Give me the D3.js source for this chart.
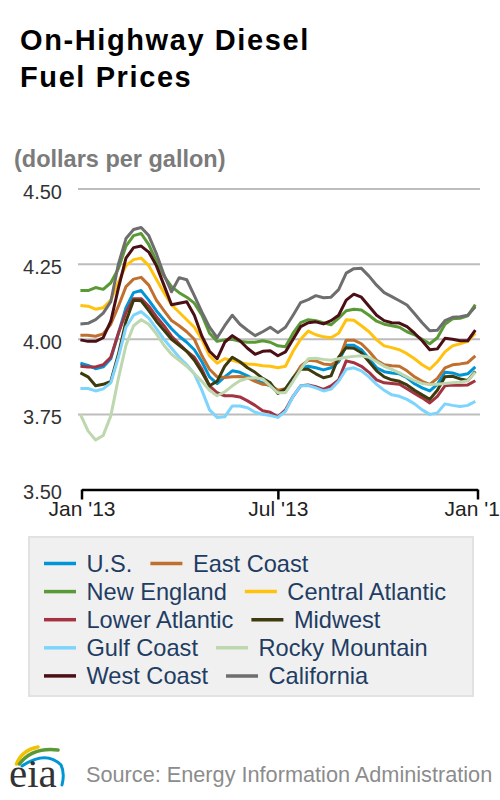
<!DOCTYPE html>
<html>
<head>
<meta charset="utf-8">
<script src="https://cdnjs.cloudflare.com/ajax/libs/d3/7.8.5/d3.min.js"></script>
<style>
  html, body { margin: 0; padding: 0; background: #fff; }
  svg { display: block; font-family: "Liberation Sans", Arial, Helvetica, sans-serif; }
</style>
</head>
<body>
<svg id="chart" width="500" height="800"></svg>
<script>
// ---------- DATA ----------
const dates = ["2012-12-31","2013-01-07","2013-01-14","2013-01-21","2013-01-28",
  "2013-02-04","2013-02-11","2013-02-18","2013-02-25","2013-03-04","2013-03-11","2013-03-18","2013-03-25",
  "2013-04-01","2013-04-08","2013-04-15","2013-04-22","2013-04-29","2013-05-06","2013-05-13","2013-05-20","2013-05-27",
  "2013-06-03","2013-06-10","2013-06-17","2013-06-24","2013-07-01","2013-07-08","2013-07-15","2013-07-22","2013-07-29",
  "2013-08-05","2013-08-12","2013-08-19","2013-08-26","2013-09-02","2013-09-09","2013-09-16","2013-09-23","2013-09-30",
  "2013-10-07","2013-10-14","2013-10-21","2013-10-28","2013-11-04","2013-11-11","2013-11-18","2013-11-25",
  "2013-12-02","2013-12-09","2013-12-16","2013-12-23","2013-12-30"];

const seriesNames = ["U.S.","East Coast","New England","Central Atlantic","Lower Atlantic",
  "Midwest","Gulf Coast","Rocky Mountain","West Coast","California"];

const usValues = [3.920,3.913,3.902,3.908,3.935,4.020,4.105,4.155,4.162,4.130,
  4.095,4.065,4.035,4.010,3.990,3.965,3.925,3.875,3.852,3.875,
  3.895,3.890,3.878,3.865,3.855,3.845,3.825,3.835,3.872,3.905,
  3.910,3.905,3.898,3.905,3.925,3.980,3.980,3.965,3.935,3.905,
  3.892,3.888,3.885,3.872,3.852,3.838,3.828,3.850,3.890,3.888,
  3.880,3.885,3.908];
const eastCoastValues = [4.013,4.013,4.010,4.018,4.050,4.110,4.175,4.200,4.206,4.180,
  4.130,4.095,4.062,4.045,4.025,4.000,3.945,3.900,3.875,3.873,
  3.875,3.876,3.872,3.860,3.850,3.848,3.830,3.835,3.870,3.910,
  3.930,3.928,3.918,3.915,3.930,3.997,3.997,3.985,3.960,3.930,
  3.915,3.912,3.910,3.895,3.875,3.860,3.850,3.870,3.905,3.915,
  3.918,3.922,3.945];
const newEnglandValues = [4.162,4.162,4.172,4.166,4.188,4.235,4.310,4.345,4.352,4.315,
  4.260,4.210,4.175,4.155,4.140,4.120,4.080,4.020,3.993,3.998,
  4.000,3.993,3.990,3.990,3.995,3.990,3.978,3.975,4.020,4.055,
  4.065,4.062,4.055,4.048,4.070,4.095,4.100,4.097,4.080,4.060,
  4.050,4.045,4.040,4.025,4.015,4.000,3.985,4.005,4.050,4.068,
  4.070,4.078,4.115];
const centralAtlanticValues = [4.112,4.110,4.100,4.105,4.130,4.190,4.245,4.265,4.270,4.245,
  4.200,4.155,4.115,4.090,4.065,4.040,4.000,3.945,3.920,3.935,
  3.930,3.922,3.918,3.916,3.912,3.910,3.905,3.910,3.960,4.000,
  4.027,4.015,4.008,4.005,4.020,4.065,4.063,4.045,4.025,3.998,
  3.978,3.972,3.965,3.952,3.935,3.915,3.900,3.925,3.958,3.978,
  3.985,3.993,4.020];
const lowerAtlanticValues = [3.910,3.908,3.908,3.915,3.940,4.020,4.090,4.135,4.135,4.110,
  4.075,4.045,4.010,3.985,3.960,3.940,3.900,3.845,3.822,3.812,
  3.812,3.808,3.795,3.780,3.762,3.757,3.742,3.765,3.810,3.845,
  3.848,3.842,3.833,3.845,3.865,3.928,3.922,3.910,3.890,3.865,
  3.855,3.853,3.850,3.835,3.820,3.805,3.788,3.810,3.845,3.848,
  3.847,3.848,3.862];
const midwestValues = [3.888,3.875,3.845,3.850,3.860,3.950,4.060,4.130,4.128,4.095,
  4.060,4.030,4.000,3.980,3.960,3.930,3.890,3.845,3.860,3.910,
  3.940,3.925,3.905,3.890,3.870,3.855,3.820,3.835,3.870,3.900,
  3.900,3.885,3.872,3.878,3.940,3.972,3.970,3.955,3.925,3.895,
  3.875,3.865,3.860,3.848,3.830,3.815,3.800,3.830,3.875,3.877,
  3.868,3.863,3.893];
const gulfCoastValues = [3.836,3.836,3.828,3.835,3.855,3.940,4.040,4.080,4.092,4.070,
  4.035,4.000,3.970,3.940,3.915,3.885,3.830,3.765,3.740,3.742,
  3.778,3.778,3.772,3.757,3.750,3.746,3.740,3.760,3.810,3.845,
  3.846,3.838,3.828,3.834,3.860,3.900,3.905,3.895,3.875,3.850,
  3.830,3.815,3.810,3.800,3.785,3.765,3.750,3.755,3.785,3.780,
  3.776,3.780,3.793];
const rockyMountainValues = [3.750,3.695,3.665,3.680,3.745,3.870,3.980,4.045,4.065,4.050,
  4.018,3.980,3.950,3.930,3.910,3.885,3.860,3.830,3.812,3.825,
  3.845,3.862,3.870,3.872,3.868,3.845,3.822,3.822,3.860,3.900,
  3.935,3.937,3.933,3.930,3.935,3.940,3.943,3.945,3.940,3.925,
  3.910,3.900,3.888,3.875,3.862,3.853,3.849,3.850,3.853,3.855,
  3.857,3.862,3.890];
const westCoastValues = [3.998,3.993,3.993,4.005,4.060,4.170,4.270,4.305,4.310,4.290,
  4.245,4.180,4.115,4.120,4.125,4.080,4.010,3.960,3.935,3.990,
  4.012,3.995,3.970,3.950,3.960,3.962,3.945,3.958,4.000,4.042,
  4.055,4.058,4.051,4.062,4.080,4.130,4.150,4.140,4.110,4.080,
  4.062,4.055,4.054,4.042,4.020,3.995,3.965,3.968,4.003,4.000,
  3.995,3.995,4.030];
const californiaValues = [4.051,4.053,4.065,4.087,4.125,4.250,4.335,4.365,4.372,4.345,
  4.285,4.215,4.158,4.205,4.198,4.145,4.090,4.040,4.005,4.045,
  4.080,4.050,4.030,4.012,4.025,4.040,4.022,4.040,4.080,4.122,
  4.132,4.145,4.138,4.140,4.165,4.220,4.235,4.236,4.210,4.180,
  4.155,4.142,4.128,4.114,4.085,4.055,4.028,4.030,4.062,4.073,
  4.075,4.080,4.108];

const yTickValues = [3.50, 3.75, 4.00, 4.25, 4.50];
const xTickDates = ["2013-01-01","2013-07-01","2014-01-01"];

// ---------- STYLE ----------
const colors = ["#0096d6","#c0702e","#5a9a36","#ffc20e","#a33340",
  "#3d3a0e","#7dd4fc","#bdd7ae","#4b0f16","#6e6e6e"];
const allValues = [usValues, eastCoastValues, newEnglandValues, centralAtlanticValues,
  lowerAtlanticValues, midwestValues, gulfCoastValues, rockyMountainValues,
  westCoastValues, californiaValues];

const parse = d3.utcParse("%Y-%m-%d");
const series = seriesNames.map((name, i) => ({
  name, color: colors[i],
  points: dates.map((d, j) => ({ date: parse(d), value: allValues[i][j] }))
}));

const svg = d3.select("#chart");

// Title
const title = svg.append("g").attr("font-weight", "bold").attr("fill", "#000")
  .attr("font-size", 29).attr("letter-spacing", 1.6);
title.append("text").attr("x", 20).attr("y", 50).text("On-Highway Diesel");
title.append("text").attr("x", 20).attr("y", 87).text("Fuel Prices");

svg.append("text").attr("x", 14).attr("y", 166.5)
  .attr("font-size", 23.5).attr("font-weight", "bold").attr("fill", "#7b7b7b")
  .text("(dollars per gallon)");

// Scales
const x = d3.scaleUtc().domain([parse("2013-01-01"), parse("2014-01-01")]).range([81.5, 477.5]);
const y = d3.scaleLinear().domain([3.5, 4.5]).range([489.5, 189]);

// Gridlines
svg.append("g").selectAll("line").data(yTickValues.filter(v => v > 3.5)).join("line")
  .attr("x1", 78).attr("x2", 480)
  .attr("y1", d => y(d)).attr("y2", d => y(d))
  .attr("stroke", "#bdbdbd").attr("stroke-width", 2);

// Y axis labels
const yAxis = svg.append("g").attr("transform", "translate(62,0)")
  .call(d3.axisLeft(y).tickValues(yTickValues).tickFormat(d3.format(".2f")).tickSize(0).tickPadding(0));
yAxis.select(".domain").remove();
yAxis.selectAll("text").attr("font-size", 20).attr("fill", "#333")
  .attr("font-family", "'Liberation Sans', Arial, sans-serif").attr("dy", "0.46em");

// Lines
const line = d3.line().x(d => x(d.date)).y(d => y(d.value));
svg.append("g").selectAll("path").data(series).join("path")
  .attr("d", d => line(d.points))
  .attr("fill", "none").attr("stroke", d => d.color)
  .attr("stroke-width", 3).attr("stroke-linejoin", "round").attr("stroke-linecap", "butt");

// X axis
const xAxis = svg.append("g").attr("transform", "translate(0,489.5)")
  .call(d3.axisBottom(x).tickValues(xTickDates.map(parse))
    .tickFormat(d3.utcFormat("%b '%y")).tickSize(10).tickSizeOuter(0).tickPadding(1.5));
xAxis.select(".domain").attr("stroke", "#000").attr("stroke-width", 2.5);
xAxis.selectAll(".tick line").attr("stroke", "#000").attr("stroke-width", 2.5);
xAxis.selectAll("text").attr("font-size", 21).attr("fill", "#222")
  .attr("font-family", "'Liberation Sans', Arial, sans-serif");

// Legend
const legend = svg.append("g");
legend.append("rect").attr("x", 29).attr("y", 537).attr("width", 444).attr("height", 159)
  .attr("fill", "#f0f0f0").attr("stroke", "#e2e2e2").attr("stroke-width", 2);
const rowY0 = 563.5, rowStep = 28.1;
for (let r = 0; r < 5; r++) {
  const cy = rowY0 + r * rowStep;
  let sx = 44;
  for (let c = 0; c < 2; c++) {
    const s = series[r * 2 + c];
    legend.append("line").attr("x1", sx).attr("x2", sx + 32).attr("y1", cy).attr("y2", cy)
      .attr("stroke", s.color).attr("stroke-width", 3.5);
    const t = legend.append("text").attr("x", sx + 42.5).attr("y", cy + 8.4)
      .attr("font-size", 23.6).attr("fill", "#1f3d63").text(s.name);
    sx = sx + 42.5 + t.node().getComputedTextLength() + 18;
  }
}

// Footer / logo
const logo = svg.append("g");
logo.append("path").attr("d", "M16.5,764 Q22,750 38,747").attr("fill", "none")
  .attr("stroke", "#f2c200").attr("stroke-width", 3.5).attr("stroke-linecap", "round");
logo.append("path").attr("d", "M19.5,764 Q32,747 58,750").attr("fill", "none")
  .attr("stroke", "#5a9a36").attr("stroke-width", 3.5).attr("stroke-linecap", "round");
logo.append("path").attr("d", "M22,766 Q46,750 61,765 Q65,773 62,785").attr("fill", "none")
  .attr("stroke", "#0096d6").attr("stroke-width", 3).attr("stroke-linecap", "round");
logo.append("text").attr("x", 9).attr("y", 787)
  .attr("font-family", "'Liberation Serif', 'DejaVu Serif', serif")
  .attr("font-size", 41).attr("fill", "#333").text("eia");

svg.append("text").attr("x", 86).attr("y", 782)
  .attr("font-size", 21.7).attr("fill", "#8c8c8c")
  .text("Source: Energy Information Administration");
</script>
</body>
</html>
